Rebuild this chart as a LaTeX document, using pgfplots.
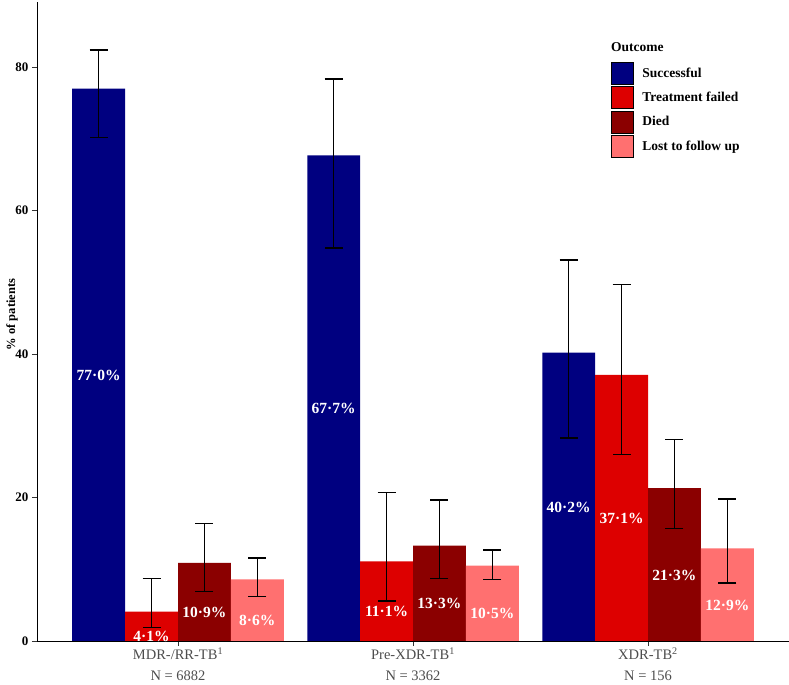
\documentclass[border=0pt]{standalone}
\usepackage{pgfplots}
\pgfplotsset{compat=1.18}
\usepackage{pgfplotstable}
\usepackage{fontspec}
\setmainfont{Liberation Serif}
\usetikzlibrary{calc}
\definecolor{c1}{RGB}{0,0,128}
\definecolor{c2}{RGB}{221,0,0}
\definecolor{c3}{RGB}{139,0,0}
\definecolor{c4}{RGB}{255,112,112}
\definecolor{txtgrey}{RGB}{77,77,77}

% x  value  lower  upper  label
\pgfplotstableread{
x y lo hi lab
1 77.0 70.2 82.4 77·0
2 67.7 54.8 78.3 67·7
3 40.2 28.3 53.1 40·2
}\succ
\pgfplotstableread{
x y lo hi lab
1 4.1 1.85 8.7 4·1
2 11.1 5.6 20.7 11·1
3 37.1 26.0 49.7 37·1
}\fail
\pgfplotstableread{
x y lo hi lab
1 10.9 6.9 16.4 10·9
2 13.3 8.7 19.65 13·3
3 21.3 15.65 28.1 21·3
}\died
\pgfplotstableread{
x y lo hi lab
1 8.6 6.2 11.6 8·6
2 10.5 8.55 12.7 10·5
3 12.9 8.1 19.8 12·9
}\lost

\pgfplotsset{
  sqlegend/.style={legend image code/.code={\fill[##1] (0bp,-11bp) rectangle (22bp,11bp);}},
  mybar/.style={ybar, bar width=0.225, draw=none, forget plot},
  myerr/.style={draw=none, mark=none, forget plot,
    error bars/y dir=both, error bars/y explicit,
    error bars/error bar style={line width=1.5bp, black, solid},
    error bars/error mark options={line width=1.5bp, black, mark size=9bp, rotate=90, solid}},
  mylab/.style={draw=none, mark=none, forget plot,
    point meta=explicit symbolic,
    nodes near coords={\pgfplotspointmeta\%},
    every node near coord/.style={anchor=center, yshift=-10.5bp, text=white,
      font=\bfseries\fontsize{15.5bp}{18bp}\selectfont, inner sep=0pt}},
}

\begin{document}
\begin{tikzpicture}
\begin{axis}[
  name=ax,
  scale only axis,
  width=752bp, height=639bp,
  xmin=0.4, xmax=3.6, ymin=0, ymax=89.06,
  axis x line*=bottom, axis y line*=left,
  axis line style={line width=0.8bp, black},
  tick align=outside,
  major tick length=5bp,
  tick style={line width=0.8bp, black!80},
  ytick={0,20,40,60,80},
  xtick={1,2,3},
  xticklabels={{MDR-/RR-TB\textsuperscript{1}\\[4bp]N = 6882},{Pre-XDR-TB\textsuperscript{1}\\[4bp]N = 3362},{XDR-TB\textsuperscript{2}\\[4bp]N = 156}},
  xticklabel style={align=center, text=txtgrey, font=\fontsize{14.5bp}{17bp}\selectfont, yshift=1.5bp},
  yticklabel style={font=\bfseries\fontsize{13bp}{15bp}\selectfont, text=black},
  /pgf/number format/assume math mode=true,
  ylabel={\% of patients},
  ylabel style={font=\bfseries\fontsize{12.5bp}{15bp}\selectfont, at={(axis description cs:-0.0332,0.511)}, anchor=center},
  legend style={at={(axis cs:2.8426,80.7)}, anchor=north west, draw=none, fill=none,
    inner sep=0pt, outer sep=0pt, row sep=2bp,
    font=\bfseries\fontsize{13.5bp}{16bp}\selectfont,
    nodes={inner sep=0pt},
    /tikz/every odd column/.append style={column sep=9bp}},
  legend cell align=left,
]
\addlegendimage{sqlegend, fill=c1}\addlegendentry{Successful}
\addlegendimage{sqlegend, fill=c2}\addlegendentry{Treatment failed}
\addlegendimage{sqlegend, fill=c3}\addlegendentry{Died}
\addlegendimage{sqlegend, fill=c4}\addlegendentry{Lost to follow up}

\addplot[mybar, fill=c1, bar shift=-0.3375] table[x=x, y=y] {\succ};
\addplot[mybar, fill=c2, bar shift=-0.1125] table[x=x, y=y] {\fail};
\addplot[mybar, fill=c3, bar shift=0.1125] table[x=x, y=y] {\died};
\addplot[mybar, fill=c4, bar shift=0.3375] table[x=x, y=y] {\lost};

\addplot[myerr] table[x expr=\thisrow{x}-0.3375, y=y, y error plus expr=\thisrow{hi}-\thisrow{y}, y error minus expr=\thisrow{y}-\thisrow{lo}] {\succ};
\addplot[myerr] table[x expr=\thisrow{x}-0.1125, y=y, y error plus expr=\thisrow{hi}-\thisrow{y}, y error minus expr=\thisrow{y}-\thisrow{lo}] {\fail};
\addplot[myerr] table[x expr=\thisrow{x}+0.1125, y=y, y error plus expr=\thisrow{hi}-\thisrow{y}, y error minus expr=\thisrow{y}-\thisrow{lo}] {\died};
\addplot[myerr] table[x expr=\thisrow{x}+0.3375, y=y, y error plus expr=\thisrow{hi}-\thisrow{y}, y error minus expr=\thisrow{y}-\thisrow{lo}] {\lost};

\addplot[mylab] table[x expr=\thisrow{x}-0.3375, y expr=\thisrow{y}/2, meta=lab] {\succ};
\addplot[mylab] table[x expr=\thisrow{x}-0.1125, y expr=\thisrow{y}/2, meta=lab] {\fail};
\addplot[mylab] table[x expr=\thisrow{x}+0.1125, y expr=\thisrow{y}/2, meta=lab] {\died};
\addplot[mylab] table[x expr=\thisrow{x}+0.3375, y expr=\thisrow{y}/2, meta=lab] {\lost};

\node[anchor=west, inner sep=0pt, font=\bfseries\fontsize{13.5bp}{16bp}\selectfont] at (axis cs:2.8426,82.8) {Outcome};
\end{axis}
\pgfresetboundingbox
\path ($(ax.south west)+(-37bp,-44bp)$) rectangle ($(ax.north east)+(0bp,2bp)$);
\end{tikzpicture}
\end{document}
